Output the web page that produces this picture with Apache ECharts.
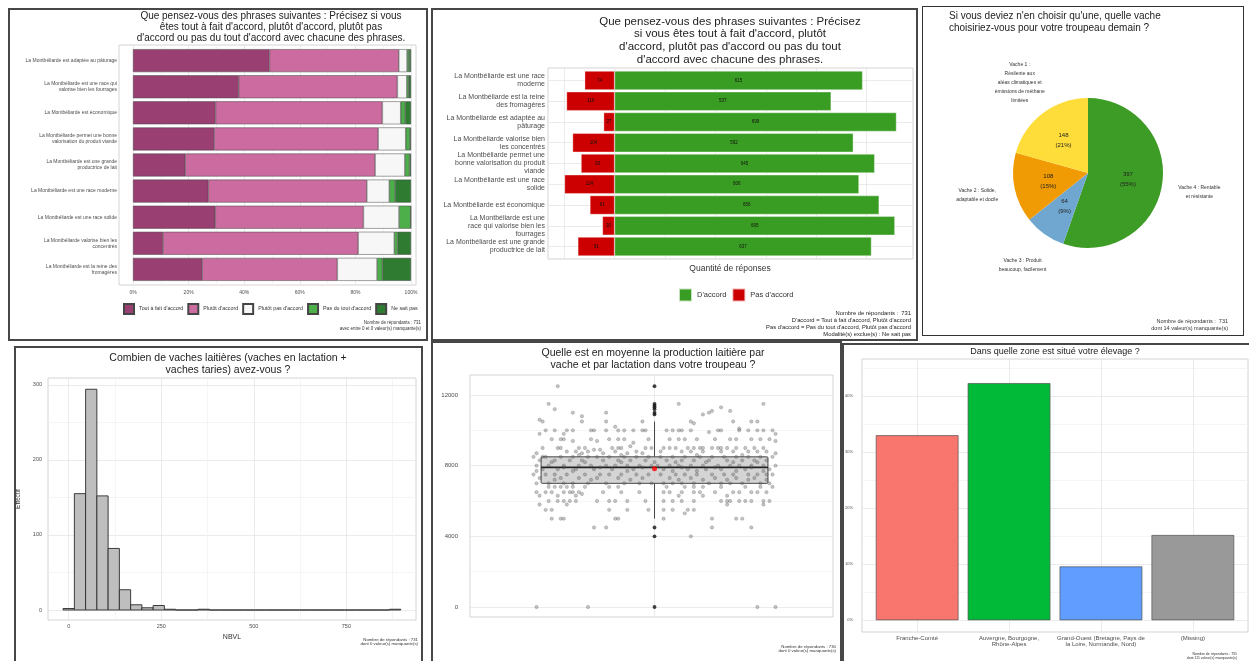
<!DOCTYPE html>
<html><head><meta charset="utf-8">
<script src="https://cdn.jsdelivr.net/npm/echarts@6/dist/echarts.min.js"></script>
<style>
html,body{margin:0;padding:0;background:#fff;width:1249px;height:661px;overflow:hidden;position:relative;}
.pn{position:absolute;}
.bd{position:absolute;box-sizing:border-box;border:2px solid #474747;pointer-events:none;}
</style></head><body>
<script>
const FONT = "'Liberation Sans', Arial, sans-serif";

// ---------- Panel 1 data ----------
const p1Categories = [
  "La Montbéliarde est adaptée au pâturage",
  "La Montbéliarde est une race qui\nvalorise bien les fourrages",
  "La Montbéliarde est économique",
  "La Montbéliarde permet une bonne\nvalorisation du produit viande",
  "La Montbéliarde est une grande\nproductrice de lait",
  "La Montbéliarde est une race moderne",
  "La Montbéliarde est une race solide",
  "La Montbéliarde valorise bien les\nconcentrés",
  "La Montbéliarde est la reine des\nfromagères"];
const p1Levels = ["Tout à fait d'accord", "Plutôt d'accord", "Plutôt pas d'accord", "Pas du tout d'accord", "Ne sait pas"];
const p1ToutAFait = [49.1, 38.0, 29.7, 29.2, 18.8, 27.1, 29.6, 10.8, 24.9];
const p1Plutot    = [46.5, 57.1, 60.0, 59.0, 68.3, 57.0, 53.3, 70.2, 48.6];
const p1PlutotPas = [3.0, 3.4, 6.6, 9.9, 10.7, 8.1, 12.8, 13.0, 14.3];
const p1PasDuTout = [0.7, 0.7, 1.6, 1.5, 1.7, 2.1, 4.2, 1.2, 1.9];
const p1NeSaitPas = [0.7, 0.8, 2.1, 0.4, 0.5, 5.7, 0.1, 4.8, 10.3];
const p1Ticks = [0, 20, 40, 60, 80, 100];
const p1MinorTicks = [10, 30, 50, 70, 90];

// ---------- Panel 2 data ----------
const p2Categories = [
  "La Montbéliarde est une race\nmoderne",
  "La Montbéliarde est la reine\ndes fromagères",
  "La Montbéliarde est adaptée au\npâturage",
  "La Montbéliarde valorise bien\nles concentrés",
  "La Montbéliarde permet une\nbonne valorisation du produit\nviande",
  "La Montbéliarde est une race\nsolide",
  "La Montbéliarde est économique",
  "La Montbéliarde est une\nrace qui valorise bien les\nfourrages",
  "La Montbéliarde est une grande\nproductrice de lait"];
const p2Accord    = [615, 537, 699, 592, 645, 606, 656, 695, 637];
const p2PasAccord = [74, 119, 27, 104, 83, 124, 61, 30, 91];
const p2Breaks = [-125, 0, 125, 250, 375, 500, 625];
const p2RowPositions = [1, 2, 3, 4, 5, 6, 7, 8, 9];

// ---------- Panel 3 data ----------
const p3Labels = [
  "Vache 4 : Rentable\net résistante",
  "Vache 3 : Produit\nbeaucoup, facilement",
  "Vache 2 : Solide,\nadaptable et docile",
  "Vache 1 :\nRésilente aux\naléas climatiques et\némissions de méthane\nlimitées"];
const p3Counts = [397, 64, 108, 148];

// ---------- Panel 4 data ----------
const p4BinWidth = 30.4;
const p4Counts = [2, 155, 294, 152, 82, 27, 7, 3, 6, 1, 0, 0, 1, 0, 0, 0, 0, 0, 0, 0, 0, 0, 0, 0, 0, 0, 0, 0, 0, 1];
const p4XTicks = [0, 250, 500, 750];
const p4XMinor = [125, 375, 625, 875];
const p4YTicks = [0, 100, 200, 300];
const p4YMinor = [50, 150, 250];

// ---------- Panel 5 data ----------
const p5Box = [5000, 7000, 7900, 8500, 10500]; // low whisker, Q1, median, Q3, high whisker
const p5Mean = 7830;
const p5Outliers = [12500, 11500, 11400, 11300, 11200, 11000, 10900, 4500, 4000, 0];
const p5YTicks = [0, 4000, 8000, 12000];
const p5YMinor = [2000, 6000, 10000];
const p5Points = [
  [12500, [-0.32]],
  [11500, [-0.35, 0.08, 0.36]],
  [11300, [0.22]],
  [11200, [-0.33]],
  [11100, [0.19, 0.25]],
  [11000, [-0.27, -0.16, 0.18]],
  [10900, [0.16]],
  [10800, [-0.24]],
  [10600, [-0.38]],
  [10500, [-0.37, -0.24, -0.16, -0.04, 0.12, 0.26, 0.32, 0.34]],
  [10400, [0.13]],
  [10200, [-0.13]],
  [10100, [0.28]],
  [10000, [-0.36, -0.33, -0.29, -0.27, -0.21, -0.20, -0.16, -0.12, -0.10, -0.07, -0.04, -0.03, 0.04, 0.06, 0.08, 0.09, 0.12, 0.21, 0.22, 0.28, 0.31, 0.34, 0.36, 0.39]],
  [9900, [0.18]],
  [9800, [-0.38, -0.30, 0.40]],
  [9500, [-0.34, -0.31, -0.30, -0.21, -0.15, -0.12, -0.10, -0.02, 0.05, 0.08, 0.10, 0.14, 0.20, 0.25, 0.27, 0.32, 0.35, 0.38]],
  [9400, [-0.27, -0.19, 0.40]],
  [9300, [-0.07]],
  [9100, [-0.08]],
  [9000, [-0.37, -0.32, -0.31, -0.25, -0.23, -0.14, -0.12, -0.11, -0.03, -0.01, 0.03, 0.05, 0.07, 0.11, 0.13, 0.15, 0.16, 0.19, 0.21, 0.22, 0.24, 0.27, 0.30, 0.33, 0.36]],
  [8900, [-0.20, -0.18]],
  [8800, [-0.29, -0.26, -0.22, -0.13, -0.06, 0.02, 0.09, 0.12, 0.16, 0.22, 0.26, 0.31, 0.34, 0.37]],
  [8700, [-0.39, -0.24, -0.17, -0.09, -0.04, 0.40]],
  [8600, [-0.25, -0.11, 0.14, 0.29]],
  [8500, [-0.40, -0.37, -0.36, -0.31, -0.27, -0.22, -0.19, -0.15, -0.10, -0.06, -0.02, 0.02, 0.06, 0.10, 0.15, 0.19, 0.23, 0.27, 0.31, 0.35, 0.39]],
  [8300, [-0.38, -0.33, -0.28, -0.24, -0.17, -0.12, -0.08, -0.03, 0.04, 0.09, 0.13, 0.18, 0.24, 0.29, 0.33, 0.37]],
  [8200, [-0.34, -0.23, -0.11, 0.00, 0.07, 0.17, 0.26, 0.34]],
  [8000, [-0.39, -0.35, -0.30, -0.25, -0.21, -0.16, -0.13, -0.09, -0.05, -0.01, 0.01, 0.05, 0.08, 0.12, 0.16, 0.21, 0.25, 0.28, 0.32, 0.36, 0.40]],
  [7900, [-0.30, -0.18, -0.04, 0.09, 0.20, 0.32]],
  [7800, [-0.37, -0.32, -0.26, -0.20, -0.14, -0.07, 0.03, 0.11, 0.17, 0.22, 0.30, 0.38]],
  [7700, [-0.39, -0.27, -0.09, 0.06, 0.14, 0.27, 0.36]],
  [7500, [-0.40, -0.36, -0.33, -0.29, -0.23, -0.18, -0.15, -0.11, -0.06, -0.02, 0.02, 0.07, 0.10, 0.14, 0.19, 0.23, 0.26, 0.31, 0.34, 0.37, 0.39]],
  [7300, [-0.38, -0.31, -0.25, -0.19, -0.12, -0.04, 0.05, 0.12, 0.20, 0.27, 0.33]],
  [7200, [-0.33, -0.21, -0.08, 0.08, 0.16, 0.24, 0.31, 0.37]],
  [7000, [-0.39, -0.35, -0.30, -0.27, -0.22, -0.16, -0.10, -0.05, -0.01, 0.03, 0.06, 0.09, 0.13, 0.18, 0.22, 0.25, 0.29, 0.35, 0.38]],
  [6800, [-0.35, -0.33, -0.31, -0.29, -0.27, -0.23, -0.15, -0.12, 0.04, 0.10, 0.13, 0.16, 0.22, 0.30, 0.35, 0.39]],
  [6500, [-0.39, -0.36, -0.34, -0.30, -0.28, -0.27, -0.25, -0.17, -0.11, -0.05, 0.03, 0.05, 0.09, 0.13, 0.15, 0.20, 0.26, 0.28, 0.32, 0.34, 0.37]],
  [6400, [-0.24]],
  [6300, [-0.38, -0.32, -0.26, 0.08, 0.16, 0.24]],
  [6000, [-0.35, -0.32, -0.30, -0.28, -0.26, -0.19, -0.15, -0.13, -0.09, -0.03, 0.03, 0.06, 0.09, 0.13, 0.22, 0.24, 0.25, 0.28, 0.30, 0.32, 0.36, 0.38]],
  [5800, [-0.38, -0.29, 0.24, 0.36]],
  [5500, [-0.36, -0.34, -0.15, -0.09, -0.02, 0.03, 0.06, 0.11, 0.13]],
  [5300, [0.10]],
  [5000, [-0.34, -0.31, -0.30, -0.13, -0.12, 0.03, 0.19, 0.27, 0.29]],
  [4500, [-0.20, -0.16, 0.19, 0.32]],
  [4000, [0.12]],
  [0, [-0.39, -0.22, 0.34, 0.40]]
];

// ---------- Panel 6 data ----------
const p6Categories = ["Franche-Comté", "Auvergne, Bourgogne,\nRhône-Alpes", "Grand-Ouest (Bretagne, Pays de\nla Loire, Normandie, Nord)", "(Missing)"];
const p6Percent = [33.0, 42.3, 9.6, 15.2];
const p6Positions = [1, 2, 3, 4];
const p6YTicks = [0, 10, 20, 30, 40];
const p6YMinor = [5, 15, 25, 35, 45];

// ---------- layout helpers ----------
const panels = {
  p1: [8, 8, 420, 333],
  p2: [431, 8, 487, 333],
  p3: [922, 6, 322, 330],
  p4: [14, 346, 409, 320],
  p5: [431, 341, 411, 325],
  p6: [842, 343, 410, 320]
};
function makePanel(id) {
  const r = panels[id];
  const d = document.createElement('div');
  d.className = 'pn'; d.id = id;
  d.style.cssText = `left:${r[0]}px;top:${r[1]}px;width:${r[2]}px;height:${r[3]}px;`;
  document.body.appendChild(d);
  const b = document.createElement('div');
  b.className = 'bd';
  b.style.cssText = `left:${r[0]}px;top:${r[1]}px;width:${r[2]}px;height:${r[3]}px;` + (id === 'p3' ? 'border:1.5px solid #333;' : '');
  document.body.appendChild(b);
  return echarts.init(d, null, {renderer: 'canvas'});
}
const MAJOR = '#e3e3e3', MINOR = '#f1f1f1', FRAME = '#c9c9c9', LAB = '#4d4d4d';
function lineAxis(gridIndex, values, color, extra) {
  return Object.assign({
    type: 'value', gridIndex,
    axisLine: {show: false},
    axisTick: {show: false, customValues: values},
    axisLabel: {show: false, customValues: values},
    splitLine: {show: true, lineStyle: {color, width: 0.7}}
  }, extra || {});
}
function titleAt(text, x, top, size, lh, align, color) {
  return {text, left: x, top, textAlign: align || 'center', padding: 0,
    textStyle: {fontSize: size, lineHeight: lh, fontWeight: 'normal', color: color || '#222', fontFamily: FONT}};
}

// ---------- Panel 1 ----------
(function () {
  const ch = makePanel('p1');
  const cols = ['#993f72', '#cc6b9f', '#f7f7f7', '#4daf4a', '#2e7b31'];
  const vals = [p1ToutAFait, p1Plutot, p1PlutotPas, p1PasDuTout, p1NeSaitPas];
  ch.setOption({
    animation: false,
    textStyle: {fontFamily: FONT},
    title: [
      titleAt("Que pensez-vous des phrases suivantes : Précisez si vous\nêtes tout à fait d'accord, plutôt d'accord, plutôt pas\nd'accord ou pas du tout d'accord avec chacune des phrases.", 263, 2.5, 10, 11),
      titleAt("Nombre de répondants : 731\navec entre 0 et 0 valeur(s) manquante(s)", 413, 312, 4.5, 6, 'right', '#333')
    ],
    legend: {data: p1Levels, left: 115, top: 295, padding: 0, itemWidth: 10, itemHeight: 10, itemGap: 4, icon: 'rect',
      textStyle: {fontSize: 5.3, color: '#333', fontFamily: FONT}},
    grid: [
      {left: 111, top: 37, width: 297, height: 240, show: true, borderColor: FRAME, borderWidth: 0.8, outerBoundsMode: 'none'},
      {left: 125, top: 39.6, width: 278, height: 234.8, outerBoundsMode: 'none'}
    ],
    xAxis: [
      Object.assign(lineAxis(0, p1Ticks, MAJOR), {min: -5.04, max: 101.8,
        axisLabel: {show: true, customValues: p1Ticks, formatter: v => v + '%', fontSize: 5, color: LAB, margin: 5}}),
      lineAxis(0, p1MinorTicks, MINOR, {min: -5.04, max: 101.8}),
      {type: 'value', gridIndex: 1, min: 0, max: 100, show: false}
    ],
    yAxis: [
      {type: 'value', gridIndex: 0, show: false, min: 0, max: 1},
      {type: 'category', gridIndex: 1, inverse: true, data: p1Categories,
        axisLine: {show: false}, axisTick: {show: false},
        axisLabel: {fontSize: 5, lineHeight: 6, color: LAB, margin: 16}}
    ],
    series: p1Levels.map((n, i) => ({
      name: n, type: 'bar', stack: 'all', xAxisIndex: 2, yAxisIndex: 1,
      barCategoryGap: '12%', data: vals[i],
      itemStyle: {color: cols[i], borderColor: '#454545', borderWidth: 0.5}
    }))
  });
})();

// ---------- Panel 2 ----------
(function () {
  const ch = makePanel('p2');
  ch.setOption({
    animation: false,
    textStyle: {fontFamily: FONT},
    title: [
      titleAt("Que pensez-vous des phrases suivantes : Précisez\nsi vous êtes tout à fait d'accord, plutôt\nd'accord, plutôt pas d'accord ou pas du tout\nd'accord avec chacune des phrases.", 299, 7, 11.5, 12.7),
      titleAt("Quantité de réponses", 299, 256, 8.5, 10, 'center', '#333'),
      titleAt("Nombre de répondants :  731\nD'accord = Tout à fait d'accord, Plutôt d'accord\nPas d'accord = Pas du tout d'accord, Plutôt pas d'accord\nModalité(s) exclue(s) : Ne sait pas", 480, 301.5, 5.8, 7, 'right', '#222')
    ],
    legend: {data: ["D'accord", "Pas d'accord"], left: 247, top: 279.5, padding: 0, itemWidth: 13, itemHeight: 13, itemGap: 5, icon: 'rect',
      textStyle: {fontSize: 7.5, color: '#333', fontFamily: FONT}},
    grid: [
      {left: 117, top: 60, width: 365, height: 191, show: true, borderColor: FRAME, borderWidth: 0.8, outerBoundsMode: 'none'},
      {left: 117, top: 62.1, width: 365, height: 186.8, outerBoundsMode: 'none'}
    ],
    xAxis: [
      lineAxis(0, p2Breaks, MAJOR, {min: -165, max: 740}),
      {type: 'value', gridIndex: 1, min: -165, max: 740, show: false}
    ],
    yAxis: [
      lineAxis(0, p2RowPositions, MAJOR, {min: 0.4, max: 9.6, inverse: true}),
      {type: 'category', gridIndex: 1, inverse: true, data: p2Categories,
        axisLine: {show: false}, axisTick: {show: false},
        axisLabel: {fontSize: 7, lineHeight: 8, color: LAB, margin: 3}}
    ],
    series: [
      {name: "D'accord", type: 'bar', stack: 's', xAxisIndex: 1, yAxisIndex: 1, barCategoryGap: '9%',
        data: p2Accord, itemStyle: {color: '#3a9d23', borderColor: 'rgba(255,255,255,0.7)', borderWidth: 0.5},
        label: {show: true, position: 'inside', fontSize: 4.5, color: '#111', formatter: p => Math.abs(p.value)}},
      {name: "Pas d'accord", type: 'bar', stack: 's', xAxisIndex: 1, yAxisIndex: 1, barCategoryGap: '9%',
        data: p2PasAccord.map(v => -v), itemStyle: {color: '#cc0000', borderColor: 'rgba(255,255,255,0.7)', borderWidth: 0.5},
        label: {show: true, position: 'inside', fontSize: 4.5, color: '#111', formatter: p => Math.abs(p.value)}}
    ]
  });
})();

// ---------- Panel 3 ----------
(function () {
  const ch = makePanel('p3');
  const cols = ['#3c9c26', '#6fa7d1', '#f09b04', '#fedd3a'];
  const data = p3Counts.map((v, i) => ({value: v, name: p3Labels[i], itemStyle: {color: cols[i]}}));
  ch.setOption({
    animation: false,
    textStyle: {fontFamily: FONT},
    title: [
      titleAt("Si vous deviez n'en choisir qu'une, quelle vache\nchoisiriez-vous pour votre troupeau demain ?", 27, 4, 10, 12, 'left', '#222'),
      titleAt("Nombre de répondants :  731\ndont 14 valeur(s) manquante(s)", 306, 312.5, 5.5, 6.5, 'right', '#333')
    ],
    series: [
      {type: 'pie', center: [166, 167], radius: [0, 75], startAngle: 90, clockwise: true, silent: true,
        data, labelLine: {show: false},
        label: {show: true, position: 'inside', fontSize: 6, lineHeight: 10, color: '#222',
          formatter: p => p.value + '\n(' + Math.round(p.percent) + '%)'},
        emphasis: {disabled: true}},
      {type: 'pie', center: [166, 167], radius: [75, 145], startAngle: 90, clockwise: true, silent: true,
        data: p3Counts.map((v, i) => ({value: v, name: p3Labels[i]})),
        itemStyle: {color: 'rgba(0,0,0,0)'}, labelLine: {show: false},
        label: {show: true, position: 'inside', fontSize: 5, lineHeight: 9, color: '#333', formatter: p => p.name},
        emphasis: {disabled: true}}
    ]
  });
})();

// ---------- Panel 4 ----------
(function () {
  const ch = makePanel('p4');
  const bins = p4Counts.map((c, i) => [i * p4BinWidth - p4BinWidth / 2, i * p4BinWidth + p4BinWidth / 2, c]);
  ch.setOption({
    animation: false,
    textStyle: {fontFamily: FONT},
    title: [
      titleAt("Combien de vaches laitières (vaches en lactation +\nvaches taries) avez-vous ?", 214, 6.5, 10.5, 12),
      titleAt("Nombre de répondants : 731\ndont 0 valeur(s) manquante(s)", 404, 291, 4.3, 4.8, 'right', '#333')
    ],
    grid: [{left: 34, top: 32, width: 368, height: 242, show: true, borderColor: FRAME, borderWidth: 0.8, outerBoundsMode: 'none'}],
    xAxis: [
      Object.assign(lineAxis(0, p4XTicks, MAJOR), {min: -56, max: 938,
        axisLabel: {show: true, customValues: p4XTicks, fontSize: 5.5, color: LAB, margin: 3},
        name: 'NBVL', nameLocation: 'middle', nameGap: 9, nameTextStyle: {fontSize: 7, color: '#333'}}),
      lineAxis(0, p4XMinor, MINOR, {min: -56, max: 938})
    ],
    yAxis: [
      Object.assign(lineAxis(0, p4YTicks, MAJOR), {min: -13.3, max: 309,
        axisLabel: {show: true, customValues: p4YTicks, fontSize: 5.5, color: LAB, margin: 6},
        name: 'Effectif', nameLocation: 'middle', nameGap: 21, nameTextStyle: {fontSize: 6.5, color: '#333'}}),
      lineAxis(0, p4YMinor, MINOR, {min: -13.3, max: 309})
    ],
    series: [{
      type: 'custom', xAxisIndex: 0, yAxisIndex: 0, data: bins, encode: {x: [0, 1], y: 2}, silent: true,
      renderItem: (params, api) => {
        const a = api.coord([api.value(0), api.value(2)]);
        const b = api.coord([api.value(1), 0]);
        return {type: 'rect', shape: {x: a[0], y: a[1], width: b[0] - a[0], height: b[1] - a[1]},
          style: {fill: '#bebebe', stroke: '#2b2b2b', lineWidth: 0.9}};
      }
    }]
  });
})();

// ---------- Panel 5 ----------
(function () {
  const ch = makePanel('p5');
  const pts = [];
  p5Points.forEach(([v, xs]) => xs.forEach(x => pts.push([x, v])));
  const HW = 0.375;
  ch.setOption({
    animation: false,
    textStyle: {fontFamily: FONT},
    title: [
      titleAt("Quelle est en moyenne la production laitière par\nvache et par lactation dans votre troupeau ?", 222, 6.5, 10.5, 12),
      titleAt("Nombre de répondants : 730\ndont 0 valeur(s) manquante(s)", 405, 303, 4.3, 4.8, 'right', '#333')
    ],
    grid: [{left: 39, top: 34, width: 363, height: 242, show: true, borderColor: FRAME, borderWidth: 0.8, outerBoundsMode: 'none'}],
    xAxis: [lineAxis(0, [0], MAJOR, {min: -0.61, max: 0.59})],
    yAxis: [
      Object.assign(lineAxis(0, p5YTicks, MAJOR), {min: -566, max: 13132,
        axisLabel: {show: true, customValues: p5YTicks, formatter: v => String(v), fontSize: 6, color: LAB, margin: 12},
        name: 'PROD', nameLocation: 'middle', nameGap: 27, nameTextStyle: {fontSize: 7, color: '#333'}}),
      lineAxis(0, p5YMinor, MINOR, {min: -566, max: 13132})
    ],
    series: [
      {type: 'custom', data: [p5Box], silent: true, encode: {x: 0, y: [0, 1, 2, 3, 4]},
        renderItem: (params, api) => {
          const lo = api.value(0), q1 = api.value(1), md = api.value(2), q3 = api.value(3), hi = api.value(4);
          const tl = api.coord([-HW, q3]), br = api.coord([HW, q1]);
          const ml = api.coord([-HW, md]), mr = api.coord([HW, md]);
          const h = api.coord([0, hi]), t = api.coord([0, q3]), b = api.coord([0, q1]), l = api.coord([0, lo]);
          return {type: 'group', children: [
            {type: 'line', shape: {x1: h[0], y1: h[1], x2: t[0], y2: t[1]}, style: {stroke: '#333', lineWidth: 0.9}},
            {type: 'line', shape: {x1: b[0], y1: b[1], x2: l[0], y2: l[1]}, style: {stroke: '#333', lineWidth: 0.9}},
            {type: 'rect', shape: {x: tl[0], y: tl[1], width: br[0] - tl[0], height: br[1] - tl[1], r: 1},
              style: {fill: 'rgba(205,205,205,0.85)', stroke: '#333', lineWidth: 0.9}},
            {type: 'line', shape: {x1: ml[0], y1: ml[1], x2: mr[0], y2: mr[1]}, style: {stroke: '#222', lineWidth: 1.7}}
          ]};
        }},
      {type: 'scatter', data: pts, symbolSize: 3.4, silent: true,
        itemStyle: {color: 'rgba(95,95,95,0.45)', borderColor: 'rgba(40,40,40,0.45)', borderWidth: 0.5}},
      {type: 'scatter', data: p5Outliers.map(v => [0, v]), symbolSize: 3.8, silent: true, itemStyle: {color: '#111'}},
      {type: 'scatter', data: [[0, p5Mean]], symbolSize: 5, silent: true, itemStyle: {color: '#ff0000'}}
    ]
  });
})();

// ---------- Panel 6 ----------
(function () {
  const ch = makePanel('p6');
  const cols = ['#f8766d', '#00ba38', '#619cff', '#999999'];
  ch.setOption({
    animation: false,
    textStyle: {fontFamily: FONT},
    title: [
      titleAt("Dans quelle zone est situé votre élevage ?", 213, 3.5, 9, 10),
      titleAt("Nombre de répondants : 731\ndont 111 valeur(s) manquante(s)", 395, 309, 3.5, 4, 'right', '#333')
    ],
    grid: [
      {left: 20, top: 16, width: 386, height: 273, show: true, borderColor: FRAME, borderWidth: 0.8, outerBoundsMode: 'none'},
      {left: 29.2, top: 16, width: 367.6, height: 273, outerBoundsMode: 'none'}
    ],
    xAxis: [
      lineAxis(0, p6Positions, MAJOR, {min: 0.4, max: 4.6}),
      {type: 'category', gridIndex: 1, data: p6Categories, axisLine: {show: false}, axisTick: {show: false},
        axisLabel: {fontSize: 6, lineHeight: 6.5, color: LAB, margin: 3, interval: 0}}
    ],
    yAxis: [
      Object.assign(lineAxis(0, p6YTicks, MAJOR), {min: -2.1, max: 46.6,
        axisLabel: {show: true, customValues: p6YTicks, formatter: v => v + '%', fontSize: 4, color: LAB, margin: 9}}),
      lineAxis(0, p6YMinor, MINOR, {min: -2.1, max: 46.6}),
      {type: 'value', gridIndex: 1, min: -2.1, max: 46.6, show: false}
    ],
    series: [{
      type: 'bar', xAxisIndex: 1, yAxisIndex: 2, barCategoryGap: '10%', silent: true,
      data: p6Percent.map((v, i) => ({value: v, itemStyle: {color: cols[i]}})),
      itemStyle: {borderColor: '#555', borderWidth: 0.7}
    }]
  });
})();
</script>
</body></html>
